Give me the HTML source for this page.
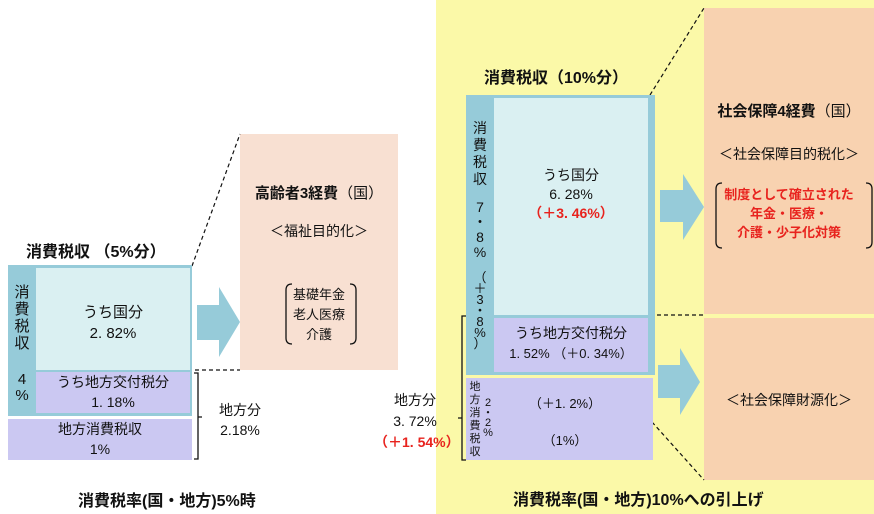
<!DOCTYPE html>
<html><head><meta charset="utf-8"><style>
body{margin:0;width:874px;height:514px;position:relative;background:#fff;overflow:hidden;font-family:"Liberation Sans","Noto Sans CJK JP",sans-serif;color:#111}
.a{position:absolute}
.c{text-align:center}
.b{font-weight:bold}
</style></head><body>
<div class="a" style="left:436px;top:0;width:438px;height:514px;background:#fbf9a8"></div>
<div class="a" style="left:240px;top:134px;width:158px;height:236px;background:#f8e0d2"></div>
<div class="a" style="left:704px;top:8px;width:170px;height:306px;background:#f8d2b0"></div>
<div class="a" style="left:704px;top:318px;width:170px;height:162px;background:#f8d2b0"></div>

<svg class="a" style="left:0;top:0" width="874" height="514">
<g stroke="#111" stroke-width="1.2" stroke-dasharray="4,3" fill="none">
<line x1="192" y1="266" x2="240" y2="134"/>
<line x1="188" y1="370" x2="240" y2="370"/>
<line x1="650" y1="95" x2="704" y2="8"/>
<line x1="650" y1="315" x2="704" y2="315"/>
<line x1="490" y1="422" x2="652" y2="422"/>
<line x1="652" y1="422" x2="704" y2="480"/>
</g>
<g fill="#96cbd9">
<polygon points="197,305 219,305 219,287 240,322 219,357 219,340 197,340"/>
<polygon points="660,190 683,190 683,174 704,207 683,240 683,222 660,222"/>
<polygon points="658,365 680,365 680,348 700,382 680,415 680,398 658,398"/>
</g>
<g stroke="#111" stroke-width="1.3" fill="none">
<path d="M194,373 H198 V459 H194 M198,417 H202"/>
<path d="M466,316 H462 V460 H466 M462,418 H458"/>
<path d="M292,284 Q286,284 286,290 V338 Q286,344 292,344"/>
<path d="M350,284 Q356,284 356,290 V338 Q356,344 350,344"/>
<path d="M722,183 Q716,183 716,189 V242 Q716,248 722,248"/>
<path d="M866,183 Q872,183 872,189 V242 Q872,248 866,248"/>
</g>
</svg>

<!-- left diagram -->
<div class="a b" style="left:26px;top:238px;font-size:16px">消費税収 （5%分）</div>
<div class="a" style="left:8px;top:265px;width:184px;height:151px;background:#96cbd9"></div>
<div class="a c" style="left:36px;top:268px;width:154px;height:102px;background:#daf0f2;font-size:15px;line-height:21px;box-sizing:border-box;padding-top:34px">うち国分<br>2. 82%</div>
<div class="a c" style="left:36px;top:372px;width:154px;height:41px;background:#cbc8f2;font-size:14px;line-height:20px">うち地方交付税分<br>1. 18%</div>
<div class="a c" style="left:8px;top:284px;width:28px;font-size:15px;line-height:17px">消<br>費<br>税<br>収</div>
<div class="a c" style="left:8px;top:372px;width:28px;font-size:15px;line-height:16px">4<br>%</div>
<div class="a c" style="left:8px;top:419px;width:184px;height:41px;background:#cbc8f2;font-size:14px;line-height:20px">地方消費税収<br>1%</div>
<div class="a c" style="left:208px;top:400px;width:64px;font-size:14px;line-height:20px">地方分<br>2.18%</div>

<div class="a c b" style="left:240px;top:182px;width:158px;font-size:15px">高齢者3経費<span style="font-weight:normal">（国）</span></div>
<div class="a c" style="left:240px;top:221px;width:158px;font-size:14px">＜福祉目的化＞</div>
<div class="a c" style="left:240px;top:285px;width:158px;font-size:13px;line-height:20px">基礎年金<br>老人医療<br>介護</div>
<div class="a b" style="left:78px;top:487px;font-size:16px">消費税率(国・地方)5%時</div>

<!-- right diagram -->
<div class="a b" style="left:484px;top:64px;font-size:16px">消費税収（10%分）</div>
<div class="a" style="left:466px;top:95px;width:189px;height:280px;background:#96cbd9"></div>
<div class="a c" style="left:494px;top:98px;width:154px;height:217px;background:#daf0f2;font-size:14px;line-height:19px;box-sizing:border-box;padding-top:68px">うち国分<br>6. 28%<br><span style="color:#e8231e;font-weight:bold">（＋3. 46%）</span></div>
<div class="a c" style="left:494px;top:318px;width:154px;height:54px;background:#cbc8f2;font-size:14px;line-height:20px;padding-top:5px;box-sizing:border-box">うち地方交付税分<br><span style="font-size:13px">1. 52% （＋0. 34%）</span></div>
<div class="a c" style="left:466px;top:120px;width:28px;font-size:14px;line-height:17px">消<br>費<br>税<br>収</div>
<div class="a c" style="left:466px;top:200px;width:28px;font-size:14px;line-height:15px">7<br>・<br>8<br>%</div>
<div class="a c" style="left:466px;top:272px;width:28px;font-size:13px;line-height:11px">（<br>＋<br>3<br>・<br>8<br>%<br>）</div>
<div class="a" style="left:466px;top:378px;width:187px;height:82px;background:#cbc8f2"></div>
<div class="a c" style="left:469px;top:381px;width:12px;font-size:11px;line-height:13px">地<br>方<br>消<br>費<br>税<br>収</div>
<div class="a c" style="left:482px;top:398px;width:12px;font-size:11px;line-height:10px">2<br>・<br>2<br>%</div>
<div class="a c" style="left:500px;top:393px;width:130px;font-size:13px">（＋1. 2%）</div>
<div class="a c" style="left:500px;top:430px;width:130px;font-size:13px">（1%）</div>
<div class="a c" style="left:374px;top:390px;width:82px;font-size:14px;line-height:21px">地方分<br>3. 72%<br><span style="color:#e8231e;font-weight:bold">（＋1. 54%）</span></div>

<div class="a c b" style="left:704px;top:100px;width:170px;font-size:15px">社会保障4経費<span style="font-weight:normal">（国）</span></div>
<div class="a c" style="left:704px;top:144px;width:170px;font-size:14px">＜社会保障目的税化＞</div>
<div class="a c b" style="left:704px;top:185px;width:170px;font-size:13px;line-height:19px;color:#e8231e">制度として確立された<br>年金・医療・<br>介護・少子化対策</div>
<div class="a c" style="left:704px;top:390px;width:170px;font-size:14px">＜社会保障財源化＞</div>
<div class="a b" style="left:513px;top:486px;font-size:16px">消費税率(国・地方)10%への引上げ</div>
</body></html>
